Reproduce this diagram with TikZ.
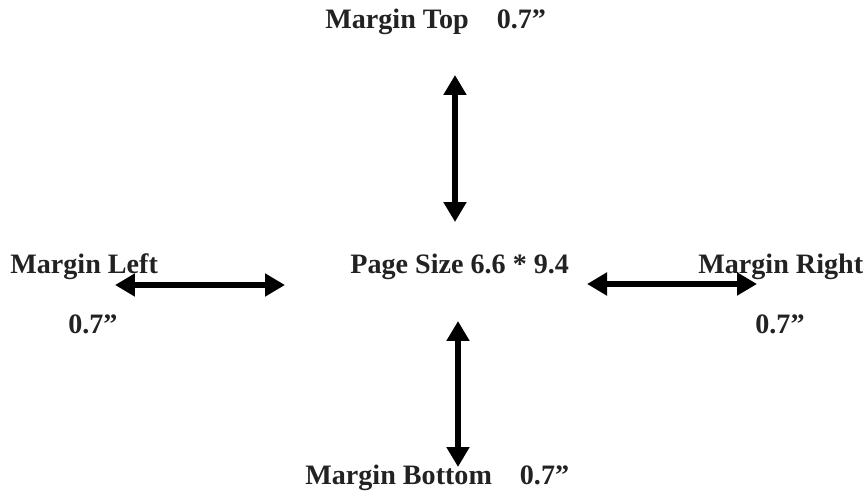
\documentclass[tikz,border=0pt]{standalone}
\usepackage{fontspec}
\setmainfont{Liberation Serif}
\usetikzlibrary{arrows.meta}
\definecolor{txtgray}{RGB}{34,34,34}
\begin{document}
\begin{tikzpicture}[x=0.02cm, y=-0.02cm, line join=round,
	lbl/.style={anchor=base west, inner sep=0pt, text=txtgray, font=\fontsize{16}{19}\selectfont\bfseries},
	dbl/.style={line width=0.12cm, {Triangle[width=0.44cm, length=0.4cm]}-{Triangle[width=0.44cm, length=0.4cm]}}]
	\useasboundingbox (0,0) rectangle (868,493);
	\def\gap{\hspace{0.56cm}} % space before the value
	% labels
	\node[lbl] (top) at (325,29) {Margin Top\gap 0.7”};
	\node[lbl] (page) at (350,273) {Page Size 6.6 * 9.4};
	\node[lbl] (left) at (10,273) {Margin Left};
	\node[lbl] (leftval) at (68,333) {0.7”};
	\node[lbl] (right) at (698,273) {Margin Right};
	\node[lbl] (rightval) at (755,333) {0.7”};
	\node[lbl] (bottom) at (305,484) {Margin Bottom\gap 0.7”};
	% arrow ends
	\coordinate (T1) at (455,75);  \coordinate (T2) at (455,222);
	\coordinate (B1) at (458,321); \coordinate (B2) at (458,467);
	\coordinate (L1) at (115,285); \coordinate (L2) at (285,285);
	\coordinate (R1) at (587,284); \coordinate (R2) at (757,284);
	\foreach \a/\b in {T1/T2,B1/B2,L1/L2,R1/R2} \draw[dbl] (\a)--(\b);
\end{tikzpicture}
\end{document}
